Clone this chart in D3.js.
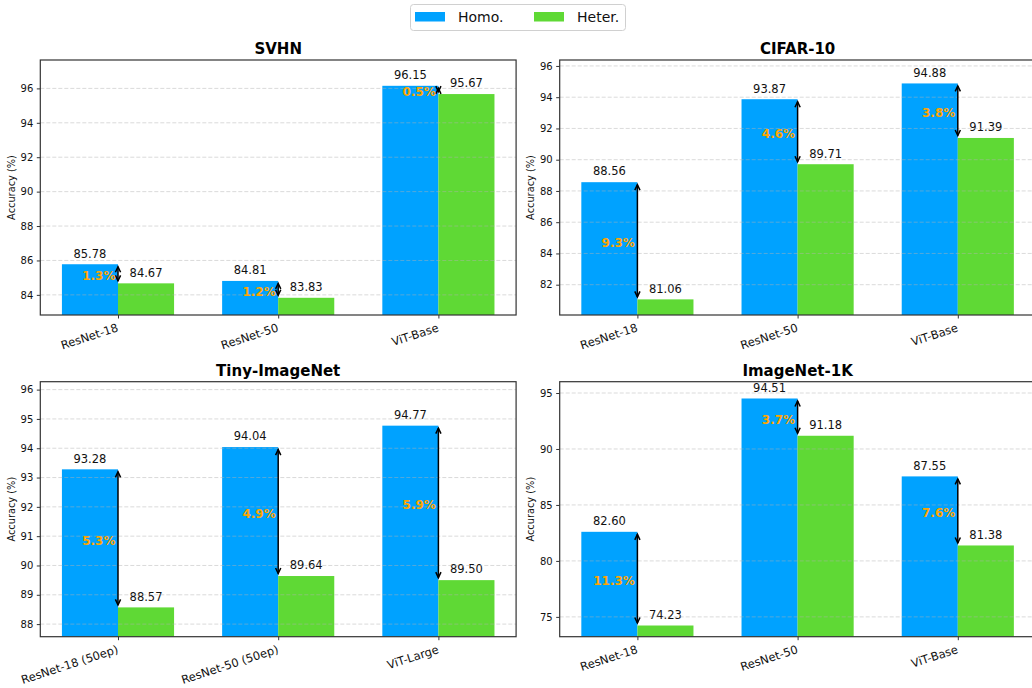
<!DOCTYPE html>
<html><head><meta charset="utf-8">
<script src="https://cdn.jsdelivr.net/npm/d3@7"></script>
<style>body{margin:0;background:#fff}svg{display:block;font-family:"DejaVu Sans",sans-serif}</style>
</head><body><svg id="c" width="1032" height="688"></svg>
<script>
// ---- data ----
const seriesNames = ["Homo.", "Heter."];
const svhnModels = ["ResNet-18", "ResNet-50", "ViT-Base"];
const svhnHomo = [85.78, 84.81, 96.15];
const svhnHeter = [84.67, 83.83, 95.67];
const svhnTicks = [84, 86, 88, 90, 92, 94, 96];

const cifarModels = ["ResNet-18", "ResNet-50", "ViT-Base"];
const cifarHomo = [88.56, 93.87, 94.88];
const cifarHeter = [81.06, 89.71, 91.39];
const cifarTicks = [82, 84, 86, 88, 90, 92, 94, 96];

const tinyModels = ["ResNet-18 (50ep)", "ResNet-50 (50ep)", "ViT-Large"];
const tinyHomo = [93.28, 94.04, 94.77];
const tinyHeter = [88.57, 89.64, 89.50];
const tinyTicks = [88, 89, 90, 91, 92, 93, 94, 95, 96];

const inetModels = ["ResNet-18", "ResNet-50", "ViT-Base"];
const inetHomo = [82.60, 94.51, 87.55];
const inetHeter = [74.23, 91.18, 81.38];
const inetTicks = [75, 80, 85, 90, 95];

const colors = ["#00A2FF", "#5FD935"];

const panels = [
  {title: "SVHN", models: svhnModels, homo: svhnHomo, heter: svhnHeter, ticks: svhnTicks, left: 40.3, top: 60, bottom: 315},
  {title: "CIFAR-10", models: cifarModels, homo: cifarHomo, heter: cifarHeter, ticks: cifarTicks, left: 559.7, top: 60, bottom: 315},
  {title: "Tiny-ImageNet", models: tinyModels, homo: tinyHomo, heter: tinyHeter, ticks: tinyTicks, left: 40.3, top: 381.7, bottom: 636.7},
  {title: "ImageNet-1K", models: inetModels, homo: inetHomo, heter: inetHeter, ticks: inetTicks, left: 559.7, top: 381.7, bottom: 636.7}
];

const svg = d3.select("#c");
const barW = 0.35;
const unitPx = 160.2;

panels.forEach(p => {
  const xMin = -0.485, xMax = 2.485;
  const right = p.left + (xMax - xMin) * unitPx;
  const x = d3.scaleLinear().domain([xMin, xMax]).range([p.left, right]);
  const all = p.homo.concat(p.heter);
  const y = d3.scaleLinear().domain([d3.min(all) - 1, d3.max(all) + 1.5]).range([p.bottom, p.top]);
  const g = svg.append("g");

  // bars
  p.models.forEach((m, i) => {
    [p.homo[i], p.heter[i]].forEach((v, s) => {
      const x0 = x(i + (s === 0 ? -barW : 0));
      const x1 = x(i + (s === 0 ? 0 : barW));
      g.append("rect").attr("x", x0).attr("y", y(v)).attr("width", x1 - x0)
        .attr("height", p.bottom - y(v)).attr("fill", colors[s]);
      g.append("text").attr("x", (x0 + x1) / 2).attr("y", y(v) - 6.7)
        .attr("text-anchor", "middle").attr("font-size", 11.5).attr("fill", "#111")
        .text(v.toFixed(2));
    });
  });

  // grid (on top, translucent)
  const grid = g.append("g");
  p.ticks.forEach(t => {
    grid.append("line").attr("x1", p.left).attr("x2", right).attr("y1", y(t)).attr("y2", y(t))
      .attr("stroke", "#b0b0b0").attr("stroke-opacity", 0.6).attr("stroke-width", 0.8)
      .attr("stroke-dasharray", "4,2");
  });

  // arrows and percentages
  p.models.forEach((m, i) => {
    const ax = x(i);
    const yT = y(p.homo[i]) + 2.5, yB = y(p.heter[i]) - 2.5;
    const hl = 5.5, hw = 2.6;
    g.append("line").attr("x1", ax).attr("x2", ax).attr("y1", yT).attr("y2", yB)
      .attr("stroke", "#000").attr("stroke-width", 1.5);
    g.append("path").attr("d", `M${ax - hw},${yT + hl}L${ax},${yT}L${ax + hw},${yT + hl}`)
      .attr("fill", "none").attr("stroke", "#000").attr("stroke-width", 1.5);
    g.append("path").attr("d", `M${ax - hw},${yB - hl}L${ax},${yB}L${ax + hw},${yB - hl}`)
      .attr("fill", "none").attr("stroke", "#000").attr("stroke-width", 1.5);
    const pct = (p.homo[i] - p.heter[i]) / p.heter[i] * 100;
    const mid = y((p.homo[i] + p.heter[i]) / 2);
    g.append("text").attr("x", ax - 2.5).attr("y", mid + 6.5).attr("text-anchor", "end")
      .attr("font-size", 12).attr("font-weight", "bold").attr("fill", "#FFA500")
      .text(pct.toFixed(1) + "%");
  });

  // y axis
  const yAxis = g.append("g").attr("transform", `translate(${p.left},0)`)
    .call(d3.axisLeft(y).tickValues(p.ticks).tickSize(3.5).tickPadding(3.5).tickFormat(d3.format("d")));
  yAxis.select(".domain").remove();
  yAxis.selectAll("text").attr("font-size", 10).attr("fill", "#111").attr("font-family", "DejaVu Sans");
  yAxis.selectAll("line").attr("stroke", "#333");

  // x axis ticks
  const xAxis = g.append("g").attr("transform", `translate(0,${p.bottom})`)
    .call(d3.axisBottom(x).tickValues(d3.range(p.models.length)).tickSize(3.5).tickFormat(""));
  xAxis.select(".domain").remove();
  xAxis.selectAll("line").attr("stroke", "#333");
  p.models.forEach((m, i) => {
    g.append("text").attr("transform", `translate(${x(i) + 1},${p.bottom + 16}) rotate(-18)`)
      .attr("text-anchor", "end").attr("font-size", 11.5).attr("fill", "#111").text(m);
  });

  // frame
  g.append("rect").attr("x", p.left).attr("y", p.top).attr("width", right - p.left)
    .attr("height", p.bottom - p.top).attr("fill", "none").attr("stroke", "#333").attr("stroke-width", 1.2);

  // title
  g.append("text").attr("x", (p.left + right) / 2).attr("y", p.top - 6)
    .attr("text-anchor", "middle").attr("font-size", 15).attr("font-weight", "bold").text(p.title);

  // y label
  g.append("text").attr("transform", `translate(${p.left - 25.5},${(p.top + p.bottom) / 2}) rotate(-90)`)
    .attr("text-anchor", "middle").attr("font-size", 9.8).attr("fill", "#111").text("Accuracy (%)");
});

// legend
const lg = svg.append("g");
lg.append("rect").attr("x", 410.5).attr("y", 4.5).attr("width", 215).attr("height", 26).attr("rx", 3)
  .attr("fill", "#fff").attr("stroke", "#d0d0d0");
const legX = [415, 534];
seriesNames.forEach((n, s) => {
  lg.append("rect").attr("x", legX[s]).attr("y", 12).attr("width", 30).attr("height", 9.5).attr("fill", colors[s]);
  lg.append("text").attr("x", legX[s] + 43).attr("y", 21.5).attr("font-size", 14).attr("fill", "#111").text(n);
});
</script></body></html>
